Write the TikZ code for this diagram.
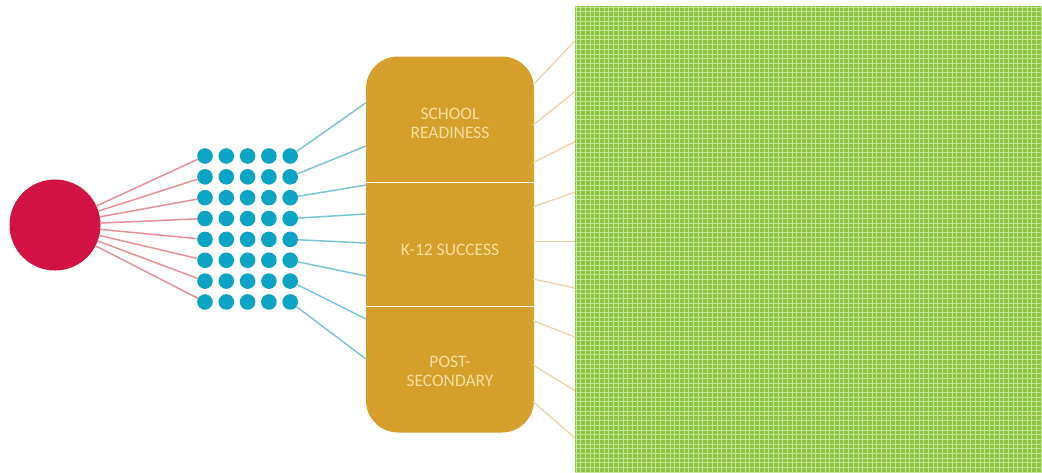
\documentclass[tikz,border=0pt]{standalone}
\usepackage{fontspec}
\setmainfont{Carlito}
\definecolor{redc}{RGB}{209,18,66}
\definecolor{redl}{RGB}{232,145,150}
\definecolor{teal}{RGB}{12,164,196}
\definecolor{bluel}{RGB}{122,198,212}
\definecolor{gold}{RGB}{212,159,43}
\definecolor{goldtxt}{RGB}{247,224,160}
\definecolor{tan}{RGB}{235,211,168}
\definecolor{grn}{RGB}{139,197,63}
\definecolor{grnl}{RGB}{198,229,150}
\tikzset{
  dot/.style={circle,fill=teal,inner sep=0pt,minimum size=15.6pt},
  redline/.style={draw=redl,line width=1.5pt},
  blueline/.style={draw=bluel,line width=1.5pt},
  tanline/.style={draw=tan,line width=1.3pt},
  lbl/.style={text=goldtxt,font=\fontsize{17.5}{19}\selectfont,align=center},
}
\begin{document}
\begin{tikzpicture}[x=1pt,y=-1pt]
\useasboundingbox (0,0) rectangle (1042,472);
% green panel
\fill[grn] (575,6) rectangle (1042,472);
\begin{scope}
\clip (575,6) rectangle (1042,472);
\foreach \i in {0,...,100} {
  \draw[grnl,line width=0.9pt] (576+\i*4.7,6) -- (576+\i*4.7,472);
  \draw[grnl,line width=0.9pt] (575,7+\i*4.7) -- (1042,7+\i*4.7);
}
\end{scope}
% box
\node[fill=gold,rounded corners=32pt,minimum width=168pt,minimum height=376pt,inner sep=0pt] (box) at (450,244.5) {};
\draw[white,line width=1.6pt] (box.west |- 0,182.5) coordinate (s1l) -- (box.east |- 0,182.5) coordinate (s1r);
\draw[white,line width=1.6pt] (box.west |- 0,306.5) coordinate (s2l) -- (box.east |- 0,306.5) coordinate (s2r);
\node[lbl] (t1) at (450,123) {SCHOOL\\READINESS};
\node[lbl] (t2) at (450,250) {K-12 SUCCESS};
\node[lbl] (t3) at (450,371) {POST-\\SECONDARY};
% red circle
\node[circle,fill=redc,inner sep=0pt,minimum size=91pt] (c) at (55,225) {};
% dots
\foreach \r in {1,...,8} {
  \foreach \k in {1,...,5} {
    \node[dot] (d-\r-\k) at ({205+(\k-1)*21.3},{156+(\r-1)*20.85}) {};
  }
}
% red lines
\foreach \r in {1,...,8} {
  \path[redline] (c) -- (d-\r-1);
}
% blue line ends
\foreach \r/\y in {1/102.7,2/146,3/185,4/214,5/243,6/276,7/319,8/359} {
  \coordinate (b\r) at (366,\y);
  \path[blueline] (d-\r-5) -- (b\r);
}
% tan lines
\foreach \r/\ya/\yb in {1/85/40.7,2/125/91.7,3/162.7/141.7,4/207/192,5/241.7/241.7,6/279/288,7/320.7/337,8/365/390.7,9/401.7/438} {
  \coordinate (o\r) at (533,\ya);
  \coordinate (g\r) at (575,\yb);
  \path[tanline] (o\r) -- (g\r);
}
\end{tikzpicture}
\end{document}
